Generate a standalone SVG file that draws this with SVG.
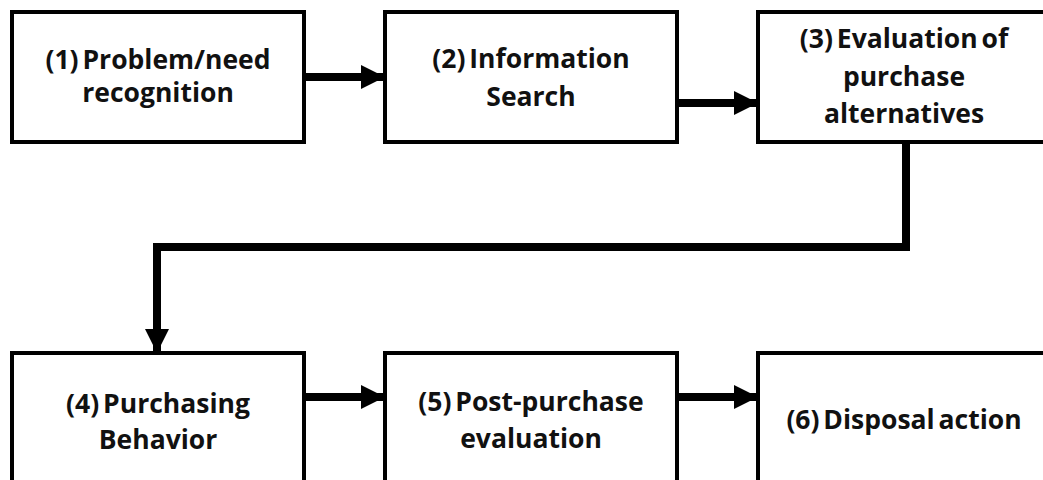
<svg xmlns="http://www.w3.org/2000/svg" width="1043" height="480" viewBox="0 0 1043 480">
<defs>
<style>
.box{fill:#fff;stroke:#000;stroke-width:4}
.t{font-family:"Open Sans","Liberation Sans",sans-serif;font-weight:bold;font-size:26.5px;fill:#111;text-anchor:middle;word-spacing:-3px}
.c{fill:none;stroke:#000;stroke-width:8}
</style>
<marker id="ah" viewBox="0 0 10 10" refX="10" refY="5" markerWidth="3" markerHeight="3" orient="auto" markerUnits="strokeWidth">
<path d="M0,0L10,5L0,10Z" fill="#000"/>
</marker>
</defs>
<rect width="1043" height="480" fill="#fff"/>
<g id="n1"><rect class="box" x="12" y="12" width="292" height="130"/><text class="t" x="158" y="69">(1) Problem/need</text><text class="t" x="158" y="102">recognition</text></g>
<g id="n2"><rect class="box" x="385" y="12" width="292" height="130"/><text class="t" x="531" y="68">(2) Information</text><text class="t" x="531" y="106">Search</text></g>
<g id="n3"><rect class="box" x="758" y="12" width="300" height="130"/><text class="t" x="904" y="48">(3) Evaluation of</text><text class="t" x="904" y="86">purchase</text><text class="t" x="904" y="123">alternatives</text></g>
<g id="n4"><rect class="box" x="12" y="353" width="292" height="140"/><text class="t" x="158" y="413">(4) Purchasing</text><text class="t" x="158" y="449">Behavior</text></g>
<g id="n5"><rect class="box" x="385" y="353" width="292" height="140"/><text class="t" x="531" y="411">(5) Post-purchase</text><text class="t" x="531" y="448">evaluation</text></g>
<g id="n6"><rect class="box" x="758" y="353" width="300" height="140"/><text class="t" x="904" y="429">(6) Disposal action</text></g>
<g id="connectors">
<path class="c" d="M306,77H385" marker-end="url(#ah)"/>
<path class="c" d="M679,103H758" marker-end="url(#ah)"/>
<path class="c" d="M906,144V247H157V353" marker-end="url(#ah)"/>
<path class="c" d="M306,397H385" marker-end="url(#ah)"/>
<path class="c" d="M679,397H758" marker-end="url(#ah)"/>
</g>
</svg>
